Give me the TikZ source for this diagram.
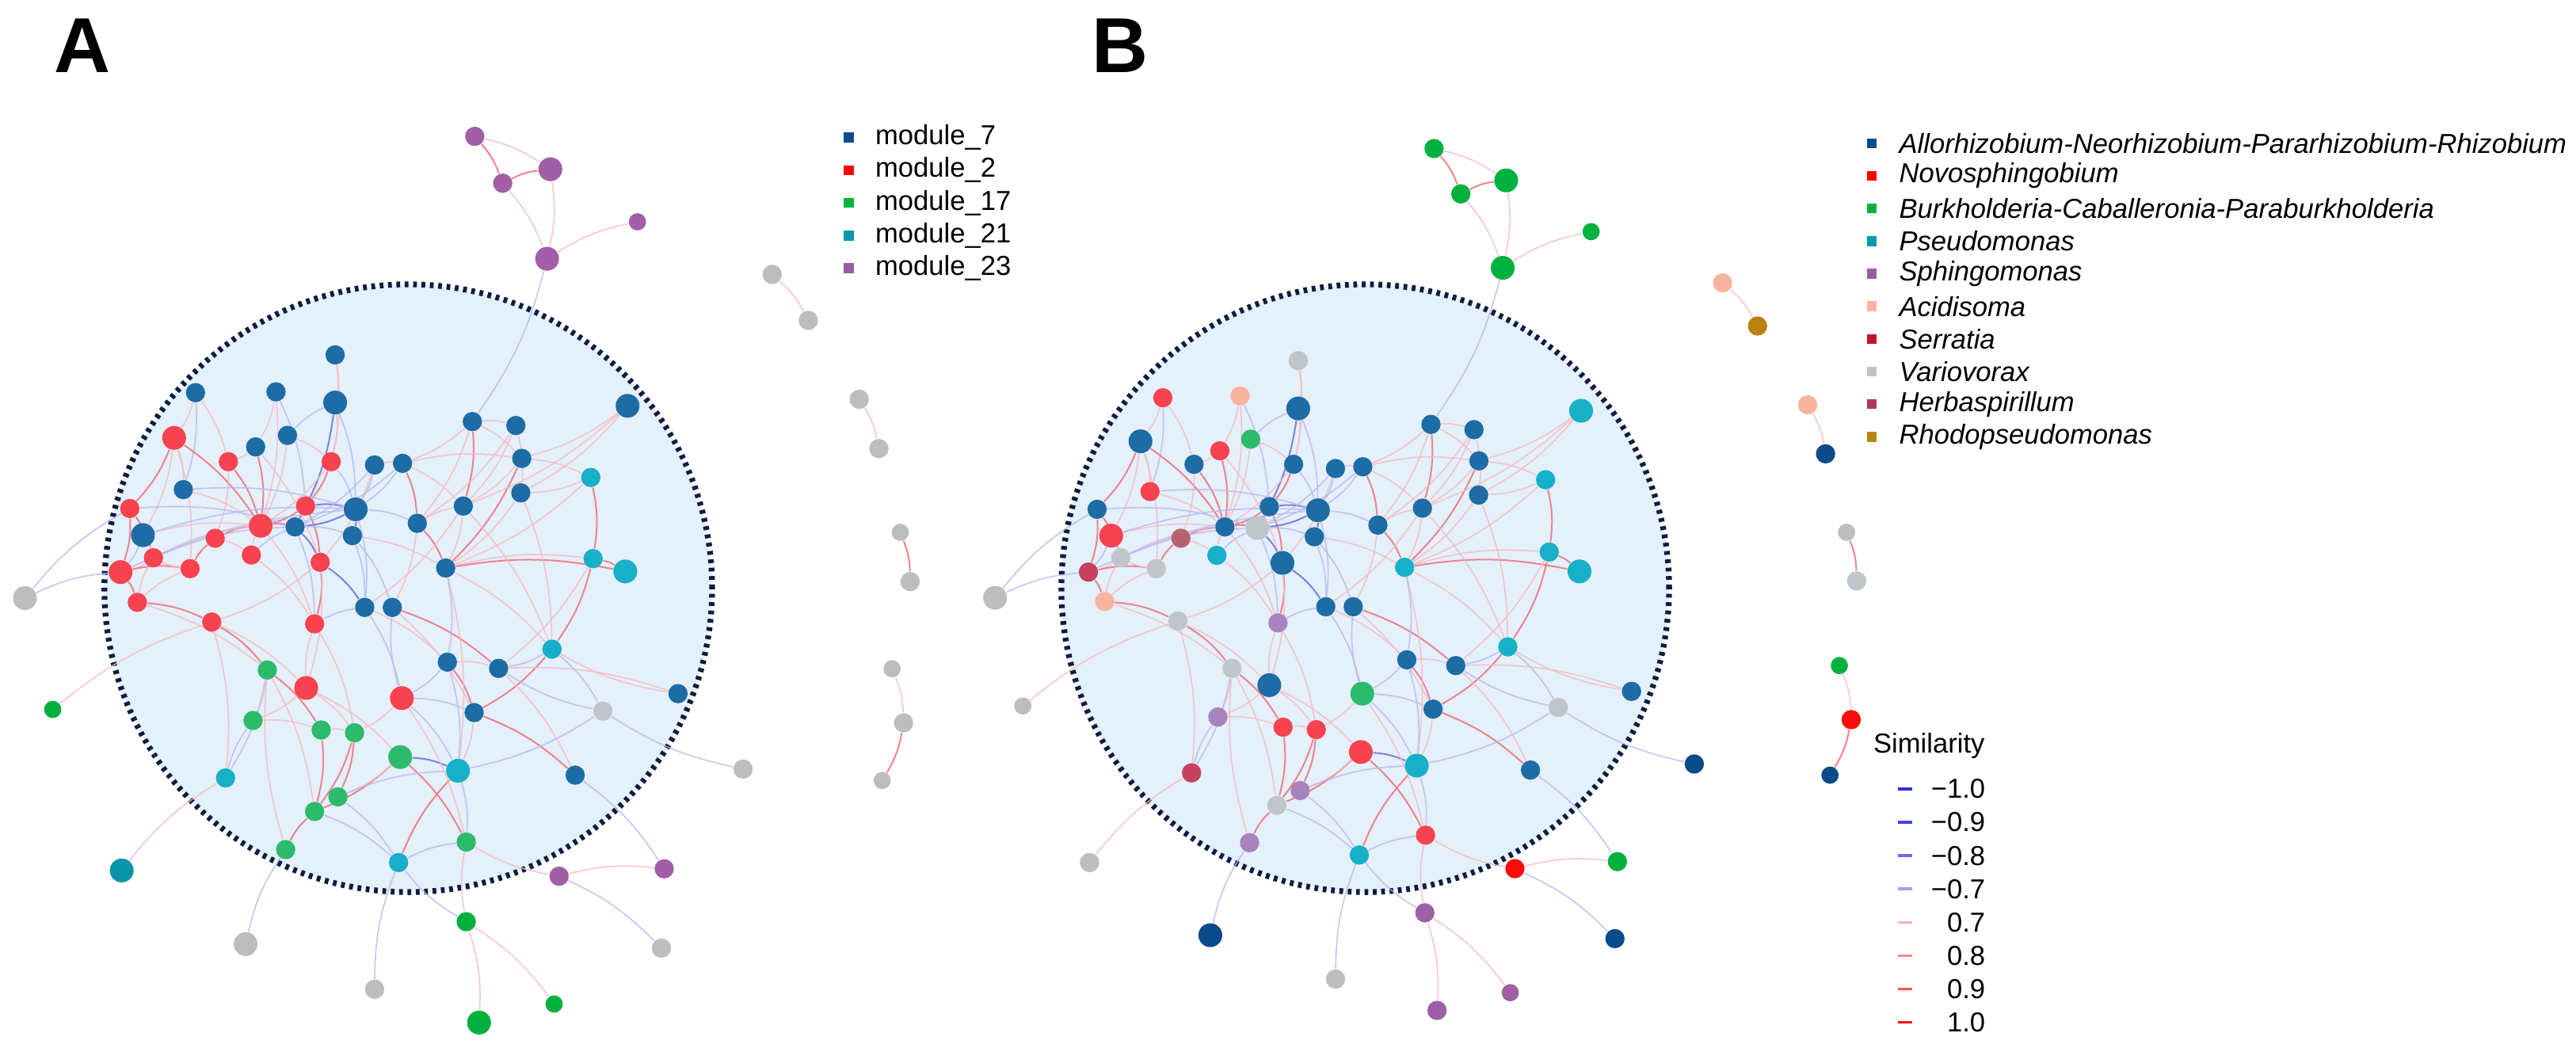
\documentclass[tikz,border=0pt]{standalone}
\usepackage{fontspec}
\setmainfont{Liberation Sans}
\usetikzlibrary{positioning,backgrounds}
\pgfdeclarelayer{edges}
\pgfsetlayers{background,edges,main}

% node colours
\definecolor{aBlu}{HTML}{1D6CA6}
\definecolor{aRed}{HTML}{F6434F}
\definecolor{aGre}{HTML}{2BBB6B}
\definecolor{aTea}{HTML}{17B0C8}
\definecolor{aPur}{HTML}{A15FA7}
\definecolor{grOut}{HTML}{BDBDBD}
\definecolor{grIn}{HTML}{BFC5C9}
\definecolor{grnOut}{HTML}{00B140}
\definecolor{tealOut}{HTML}{0A94AA}
\definecolor{navy}{HTML}{0B4A8B}
\definecolor{bSal}{HTML}{F8B49F}
\definecolor{bBro}{HTML}{B98210}
\definecolor{bGry}{HTML}{BFC5C9}
\definecolor{bRedO}{HTML}{FF0A0A}
\definecolor{bHer}{HTML}{B4636F}
\definecolor{bSer}{HTML}{C6405F}
\definecolor{bLav}{HTML}{A884BE}
\definecolor{bPur}{HTML}{9F5FA6}
\definecolor{coreFill}{HTML}{E4F0FA}
\definecolor{coreLine}{HTML}{0E1C40}
% edge colours
\definecolor{eP}{HTML}{F7B9C0}
\definecolor{eR}{HTML}{F07882}
\definecolor{eB}{HTML}{B6B8F2}
\definecolor{eD}{HTML}{7474E2}
% legend colours
\definecolor{lgBlu}{HTML}{0E4C8E}
\definecolor{lgRed}{HTML}{FF0000}
\definecolor{lgGre}{HTML}{00B33C}
\definecolor{lgTea}{HTML}{009AAB}
\definecolor{lgPur}{HTML}{9A5BA6}
\definecolor{lgSal}{HTML}{F9B5A0}
\definecolor{lgSer}{HTML}{C8102E}
\definecolor{lgVar}{HTML}{BCC3C6}
\definecolor{lgHer}{HTML}{B03A58}
\definecolor{lgRho}{HTML}{B8860B}
\definecolor{sN10}{HTML}{2F2FD0}
\definecolor{sN09}{HTML}{4545E0}
\definecolor{sN08}{HTML}{6B6BEE}
\definecolor{sN07}{HTML}{A0A0F0}
\definecolor{sP07}{HTML}{FFB0B0}
\definecolor{sP08}{HTML}{FF8888}
\definecolor{sP09}{HTML}{FF5050}
\definecolor{sP10}{HTML}{EE1515}

\tikzset{
  nd/.style={circle, inner sep=0pt, fill=#1},
  nsm/.style={minimum size=0.21cm},
  nmd/.style={minimum size=0.235cm},
  nlg/.style={minimum size=0.29cm},
  core/.style={circle, inner sep=0pt, minimum size=7.4cm, fill=coreFill,
    draw=coreLine, line width=2pt, dash pattern=on 1.3pt off 1.6pt},
  ep/.style={draw=eP, line width=0.45pt, opacity=0.8},
  er/.style={draw=eR, line width=0.55pt, opacity=0.9},
  eb/.style={draw=eB, line width=0.45pt, opacity=0.8},
  ed/.style={draw=eD, line width=0.55pt, opacity=0.9},
  legsq/.style={inner sep=0pt, minimum size=0.12cm, fill=#1},
  legtx/.style={inner sep=0pt, font=\fontsize{9.5}{11}\selectfont},
  simdash/.style={inner sep=0pt, minimum width=0.17cm, minimum height=0.035cm, fill=#1},
  panel/.style={inner sep=0pt, font=\bfseries\fontsize{27}{30}\selectfont}
}

\begin{document}
\begin{tikzpicture}[x=0.02cm, y=-0.02cm]
\useasboundingbox (0,0) rectangle (1568,640);

\node[panel] (labA) at (50,28) {A};
\node[panel] (labB) at (682,28) {B};

\begin{pgfonlayer}{background}
\node[core] (coreA) at (248.5,358) {};
\node[core] (coreB) at (831,358) {};
\end{pgfonlayer}

% network A (modules)
\def\nodesA{1/289/83/aPur/nmd, 2/335/103/aPur/nlg, 3/306/111.5/aPur/nmd,
  4/388/135/aPur/nsm, 5/333/157.5/aPur/nlg, 6/470/167/grOut/nmd,
  7/492/195/grOut/nmd, 8/523/243/grOut/nmd, 9/535/273/grOut/nmd,
  10/548/324/grOut/nsm, 11/554/354/grOut/nmd, 12/543/407/grOut/nsm,
  13/550/440/grOut/nmd, 14/537/475/grOut/nsm, 15/204/216/aBlu/nmd,
  16/119/239/aBlu/nmd, 17/168/238.5/aBlu/nmd, 18/204/245/aBlu/nlg,
  19/382/247/aBlu/nlg, 20/287.5/256.6/aBlu/nmd, 21/314/259/aBlu/nmd,
  22/106/266.5/aRed/nlg, 23/175/265/aBlu/nmd, 24/155.6/272/aBlu/nmd,
  25/139/281/aRed/nmd, 26/201.6/281/aRed/nmd, 27/228/283/aBlu/nmd,
  28/245/282/aBlu/nmd, 29/317.6/279/aBlu/nmd, 30/359.6/290.6/aTea/nmd,
  31/111.6/298/aBlu/nmd, 32/317/300/aBlu/nmd, 33/79/309.5/aRed/nmd,
  34/186/308/aRed/nmd, 35/216.5/310/aBlu/nlg, 36/282/308/aBlu/nmd,
  37/254/318.5/aBlu/nmd, 38/158.7/320/aRed/nlg, 39/179.6/320.7/aBlu/nmd,
  40/87/325.7/aBlu/nlg, 41/131/327.6/aRed/nmd, 42/214.5/326/aBlu/nmd,
  43/361/340/aTea/nmd, 44/93.4/339.5/aRed/nmd, 45/153/337.8/aRed/nmd,
  46/194.9/342.2/aRed/nmd, 47/73.4/348.2/aRed/nlg, 48/115.7/346.1/aRed/nmd,
  49/271.3/345.7/aBlu/nmd, 50/380.6/347.8/aTea/nlg, 51/15.2/364/grOut/nlg,
  52/83.6/366.6/aRed/nmd, 53/128.9/378.6/aRed/nmd, 54/191.5/379.7/aRed/nmd,
  55/222/369.7/aBlu/nmd, 56/238.8/369.7/aBlu/nmd, 57/336/395.1/aTea/nmd,
  58/272.3/403/aBlu/nmd, 59/303.5/406.8/aBlu/nmd, 60/162.7/407.8/aGre/nmd,
  61/186.4/418.7/aRed/nlg, 62/244.6/424.9/aRed/nlg, 63/32.1/431.8/grnOut/nsm,
  64/412.7/422.2/aBlu/nmd, 65/367/432.8/grIn/nmd, 66/288.6/433.7/aBlu/nmd,
  67/154/438.5/aGre/nmd, 68/195.5/444.3/aGre/nmd, 69/215.8/446/aGre/nmd,
  70/243.6/460.8/aGre/nlg, 71/278.8/469.1/aTea/nlg, 72/137.3/473.5/aTea/nmd,
  73/350.1/471.8/aBlu/nmd, 74/452.3/468.1/grOut/nmd, 75/205.7/485/aGre/nmd,
  76/191.5/493.9/aGre/nmd, 77/173.9/517.1/aGre/nmd, 78/283.8/512.5/aGre/nmd,
  79/242.6/525/aTea/nmd, 80/74.1/529.8/tealOut/nlg, 81/340.3/533.3/aPur/nmd,
  82/404.3/528.8/aPur/nmd, 83/283.8/561/grnOut/nmd, 84/149.5/574.6/grOut/nlg,
  85/402.6/577.1/grOut/nmd, 86/228/602.1/grOut/nmd, 87/337.3/611.1/grnOut/nsm,
  88/291.6/622.4/grnOut/nlg}
\foreach \i/\x/\y/\c/\s in \nodesA
  \node[nd=\c, \s] (a\i) at (\x,\y) {};

% network B (genera)
\def\nodesB{1/872.9/90.4/grnOut/nmd, 2/916.8/109.8/grnOut/nlg, 3/889.2/118/grnOut/nmd,
  4/968.5/141/grnOut/nsm, 5/914.7/163/grnOut/nlg, 6/1048.5/172.2/bSal/nmd,
  7/1069.8/198.4/bBro/nmd, 8/1100.3/246.4/bSal/nmd, 9/1111.2/276.2/navy/nmd,
  10/1124/324/grOut/nsm, 11/1130.1/353.6/bGry/nmd, 12/1119.6/405.1/grnOut/nsm,
  13/1126.8/438/bRedO/nmd, 14/1113.9/471.8/navy/nsm, 15/790.2/219.5/bGry/nmd,
  16/707.8/242.1/aRed/nmd, 17/754.8/241/bSal/nmd, 18/790.2/248.6/aBlu/nlg,
  19/962.4/250/aTea/nlg, 20/871/258.3/aBlu/nmd, 21/897.2/261.5/aBlu/nmd,
  22/694.2/268.6/aBlu/nlg, 23/761.3/267.3/aGre/nmd, 24/742.5/274.4/aRed/nmd,
  25/726.8/282.6/aBlu/nmd, 26/787.4/282.6/aBlu/nmd, 27/812.9/285.2/aBlu/nmd,
  28/829.5/284.1/aBlu/nmd, 29/900.2/280.5/aBlu/nmd, 30/940.8/292/aTea/nmd,
  31/700/299.2/aRed/nmd, 32/900/301.3/aBlu/nmd, 33/667.8/310/aBlu/nmd,
  34/772.6/308.4/aBlu/nmd, 35/802.2/310.6/aBlu/nlg, 36/865.8/309.3/aBlu/nmd,
  37/838.7/319.6/aBlu/nmd, 38/745.6/320.7/aBlu/nmd, 39/765.3/321.4/bGry/nlg,
  40/676.4/326/aRed/nlg, 41/718.8/327.6/bHer/nmd, 42/800/326.7/aBlu/nmd,
  43/943/336/aTea/nmd, 44/682.2/339.5/bGry/nmd, 45/740.7/338/aTea/nmd,
  46/780.6/342.6/aBlu/nlg, 47/662.5/348.2/bSer/nmd, 48/703.8/346.1/bGry/nmd,
  49/855/345.3/aTea/nmd, 50/961.4/347.8/aTea/nlg, 51/605.7/363.8/grOut/nlg,
  52/672.4/366.1/bSal/nmd, 53/717/378/bGry/nmd, 54/777.9/379.1/bLav/nmd,
  55/807/369.3/aBlu/nmd, 56/823.7/369.3/aBlu/nmd, 57/917.8/393.7/aTea/nmd,
  58/856.3/401.6/aBlu/nmd, 59/886.1/405.1/aBlu/nmd, 60/749.9/406.8/bGry/nmd,
  61/772.6/417/aBlu/nlg, 62/829.2/422.2/aGre/nlg, 63/622.6/429.7/grOut/nsm,
  64/993.1/420.8/aBlu/nmd, 65/948.5/430.6/bGry/nmd, 66/872.3/431.6/aBlu/nmd,
  67/741.3/436.4/bLav/nmd, 68/781/442.6/aRed/nmd, 69/801.2/444.1/aRed/nmd,
  70/828.3/457.7/aRed/nlg, 71/862.4/466/aTea/nlg, 72/725.3/470.4/bSer/nmd,
  73/931.6/468.7/aBlu/nmd, 74/1031.3/465/navy/nmd, 75/791.4/481.2/bLav/nmd,
  76/777.2/490.2/bGry/nmd, 77/760.6/512.9/bLav/nmd, 78/867.7/508.3/aRed/nmd,
  79/827.4/520.4/aTea/nmd, 80/663.2/525/grOut/nmd, 81/922.1/528.7/bRedO/nmd,
  82/984.5/524.4/grnOut/nmd, 83/867.3/555.6/bPur/nmd, 84/736.7/569.2/navy/nlg,
  85/983/571.3/navy/nmd, 86/812.9/595.9/grOut/nmd, 87/919.3/604.2/bPur/nsm,
  88/874.7/615/bPur/nmd}
\foreach \i/\x/\y/\c/\s in \nodesB
  \node[nd=\c, \s] (b\i) at (\x,\y) {};

% same links in both networks
\def\netedges{1/2/ep, 1/3/er, 3/2/er, 3/5/ep, 2/5/ep, 5/4/ep, 5/20/eb,
  6/7/ep, 8/9/ep, 10/11/er, 12/13/ep, 13/14/er,
  51/47/eb, 51/33/eb, 63/53/ep, 80/72/ep, 84/77/eb, 86/79/eb, 83/78/ep,
  83/79/eb, 83/88/ep, 83/87/ep, 81/82/ep, 81/85/eb, 81/78/ep, 74/65/eb, 73/82/eb,
  15/18/ep, 18/35/eb, 18/26/ep, 18/39/ed, 17/24/ep, 17/38/ep, 17/34/eb,
  16/31/eb, 16/25/ep, 22/31/ep, 22/33/er, 22/40/ep, 22/38/er, 22/48/ep,
  24/25/ep, 24/38/er, 25/38/er, 25/41/ep, 26/34/er, 26/35/eb, 26/38/ep,
  27/35/eb, 28/35/eb, 27/28/ep, 28/37/er, 28/36/ep, 20/21/ep, 20/36/er,
  20/29/ep, 21/32/ep, 21/36/ep, 29/49/er, 32/49/ep, 19/32/ep, 19/36/ep,
  29/30/ep, 30/43/er, 30/32/ep, 33/47/er, 33/44/er, 40/44/ep, 40/47/eb,
  44/47/ep, 47/48/er, 48/44/ep, 47/52/er, 52/53/er, 52/44/ep, 52/48/ep,
  48/41/er, 41/38/er, 41/45/ep, 34/46/er, 34/38/er, 34/35/ed, 35/39/ed,
  35/42/ed, 39/42/eb, 38/39/er, 39/46/ed, 45/39/eb, 45/38/ep, 46/54/er,
  38/54/ep, 54/55/eb, 46/55/ed, 42/56/eb, 37/49/er, 37/36/ep, 35/37/eb,
  36/49/ep, 42/49/ep, 49/43/ep, 49/50/er, 49/57/ep, 43/57/er, 43/50/er,
  57/66/er, 57/65/eb, 57/59/eb, 56/59/er, 55/58/ep, 58/59/ep, 59/64/ep,
  58/66/er, 66/73/er, 65/71/eb, 62/66/eb, 53/60/er, 60/68/er, 60/67/ep,
  60/72/eb, 68/76/er, 69/75/er, 70/76/er, 70/75/ep, 70/78/er, 79/71/er,
  70/71/ed, 75/71/eb, 62/69/ep, 62/71/eb, 61/67/ep, 61/54/ep, 61/69/ep,
  67/68/ep, 68/69/ep, 69/76/er, 75/79/eb, 76/79/eb, 79/78/eb, 71/78/eb,
  49/71/ep, 58/62/eb, 55/62/eb, 54/69/ep, 72/67/eb, 77/76/er, 77/60/ep,
  53/61/ep, 46/61/ep, 49/58/eb,
  15/26/ep, 16/22/ep, 23/26/ep, 23/18/eb, 23/38/ep, 24/46/ep, 27/46/ep,
  27/39/eb, 28/39/eb, 28/29/ep, 20/28/ep, 20/37/ep, 21/37/ep, 29/36/ep,
  36/55/ep, 37/56/ep, 35/55/eb, 42/55/eb, 39/54/eb, 45/54/ep, 46/53/ep,
  40/38/ep, 44/38/ep, 31/38/ep, 31/35/eb, 33/39/eb, 47/35/eb, 44/39/eb,
  40/35/eb, 52/60/ep, 53/72/ep, 60/76/ep, 61/70/ep, 56/66/ep, 58/71/eb,
  59/73/ep, 36/57/ep, 32/57/ep, 30/49/ep, 43/59/ep, 19/29/ep, 62/56/eb,
  66/71/ep, 62/78/ep, 64/57/ep, 65/59/eb}
\begin{pgfonlayer}{edges}
\foreach \u/\v/\et in \netedges {
  \draw[\et] (a\u) to[bend left=10] (a\v);
  \draw[\et] (b\u) to[bend left=10] (b\v);
}
\end{pgfonlayer}

% legend A
\foreach \i/\c/\t in {0/lgBlu/module\_7, 1/lgRed/module\_2, 2/lgGre/module\_17,
    3/lgTea/module\_21, 4/lgPur/module\_23} {
  \node[legsq=\c] (ka\i) at (516.6,{83.7+19.9*\i}) {};
  \node[legtx, right=0.25cm of ka\i] (ta\i) {\t};
}

% legend B
\foreach \i/\c/\t in {0/lgBlu/Allorhizobium-Neorhizobium-Pararhizobium-Rhizobium,
    1/lgRed/Novosphingobium, 2/lgGre/Burkholderia-Caballeronia-Paraburkholderia,
    3/lgTea/Pseudomonas, 4/lgPur/Sphingomonas, 5/lgSal/Acidisoma,
    6/lgSer/Serratia, 7/lgVar/Variovorax, 8/lgHer/Herbaspirillum,
    9/lgRho/Rhodopseudomonas} {
  \node[legsq=\c] (kb\i) at (1139.3,{87.2+19.85*\i}) {};
  \node[legtx, right=0.26cm of kb\i, font=\fontsize{9.5}{11}\selectfont\itshape] (tb\i) {\t};
}

% similarity legend
\node[legtx, anchor=west] (simT) at (1140,454) {Similarity};
\foreach \i/\c/\t in {0/sN10/−1.0, 1/sN09/−0.9, 2/sN08/−0.8, 3/sN07/−0.7,
    4/sP07/0.7, 5/sP08/0.8, 6/sP09/0.9, 7/sP10/1.0} {
  \node[simdash=\c] (ks\i) at (1159.6,{480.2+20.3*\i}) {};
  \node[legtx, anchor=east] (ts\i) at (1208.7,{480.2+20.3*\i}) {\t};
}

\end{tikzpicture}
\end{document}
